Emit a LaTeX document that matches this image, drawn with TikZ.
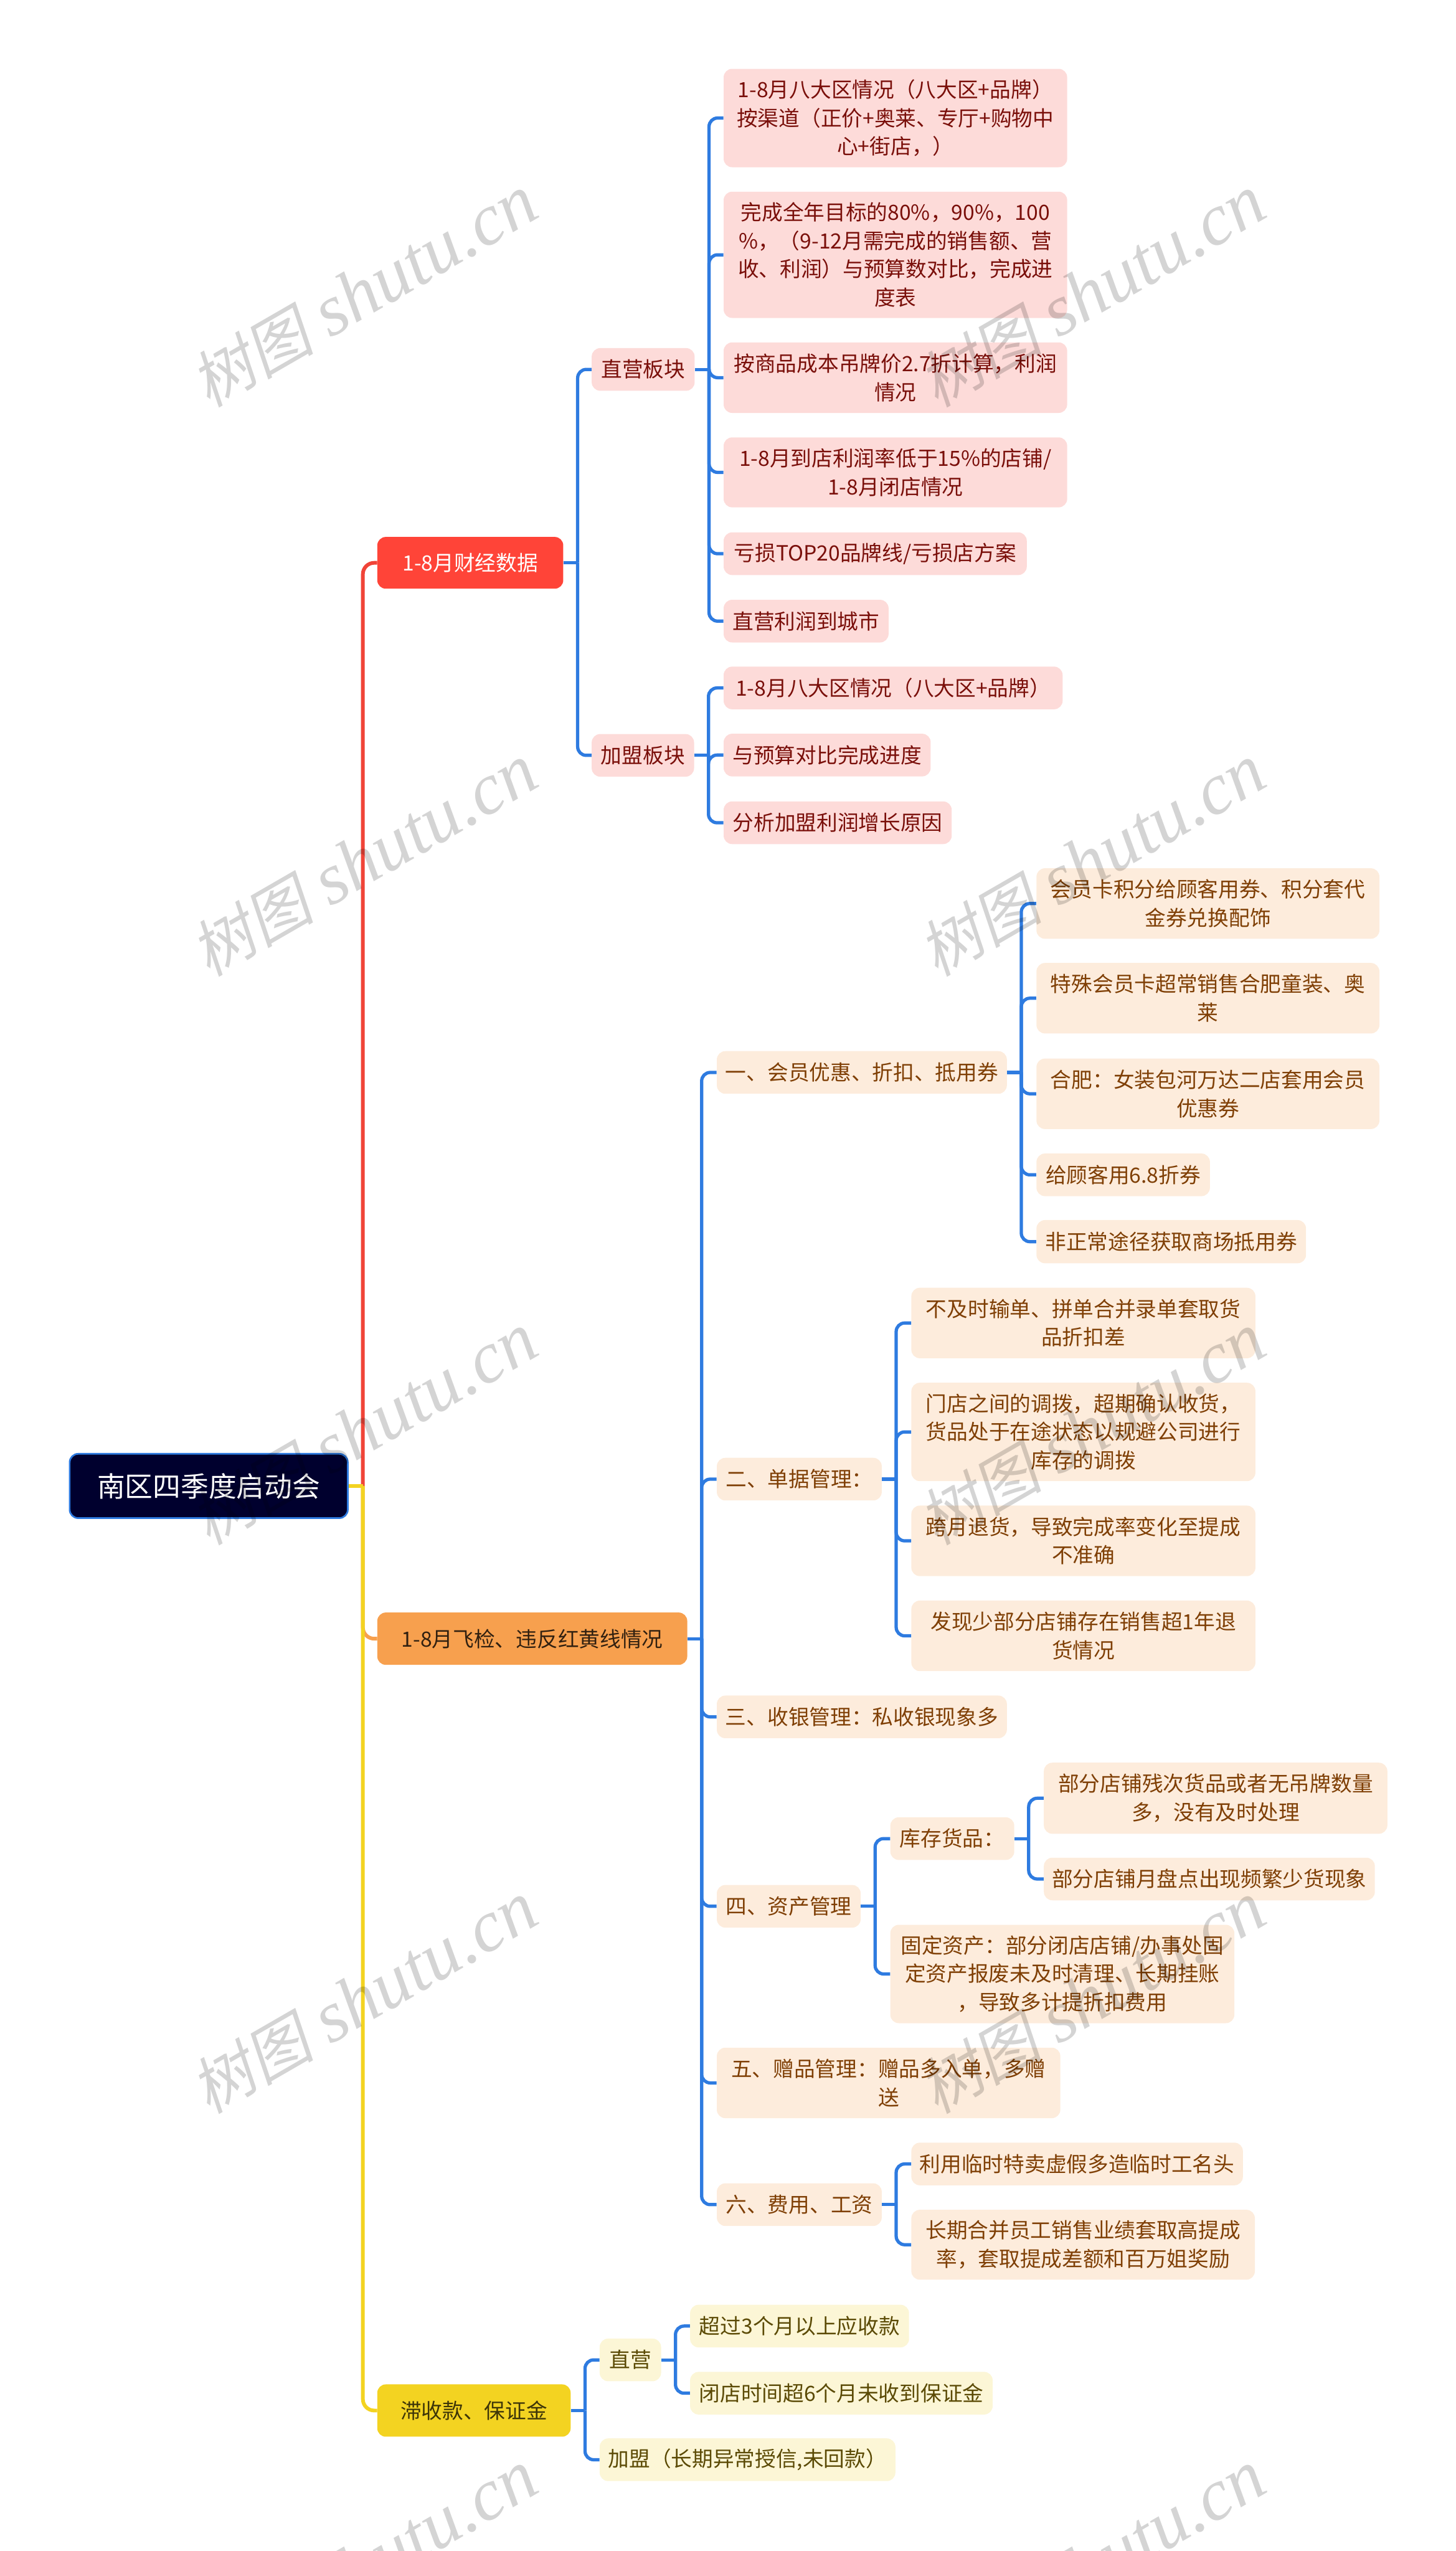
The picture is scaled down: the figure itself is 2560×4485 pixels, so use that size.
\documentclass[tikz,border=0pt]{standalone}
\usepackage{fontspec}
\usepackage{tikz}
\setmainfont{Noto Sans CJK SC}
\newfontfamily\markcjk[FakeSlant=0.2]{Noto Sans CJK SC}
\newfontfamily\marklatin{Liberation Serif}

\definecolor{rootfill}{HTML}{00002E}
\definecolor{linkblue}{HTML}{2E7BE0}
\definecolor{trunkred}{HTML}{F04438}
\definecolor{topicred}{HTML}{FF4438}
\definecolor{topicorange}{HTML}{F7A04E}
\definecolor{topicyellow}{HTML}{F3D321}
\definecolor{leafred}{HTML}{FDDBD9}
\definecolor{leaforange}{HTML}{FDECDC}
\definecolor{leafyellow}{HTML}{FCF6D6}
\definecolor{inkred}{HTML}{7A0F0A}
\definecolor{inkorange}{HTML}{7F3F05}
\definecolor{inkyellow}{HTML}{5B4A05}

\begin{document}
\begin{tikzpicture}[
        x=0.02cm, y=-0.02cm,
        boxsize/.style 2 args={minimum width=#1*0.02cm, minimum height=#2*0.02cm},
        mapbox/.style={rectangle, rounded corners=0.3cm, inner sep=0pt, anchor=west, align=center,
            font=\fontsize{21}{28.45}\selectfont},
        rootbox/.style={mapbox, fill=rootfill, draw=linkblue, line width=0.06cm, text=white,
            font=\fontsize{27.9}{34}\selectfont},
        topicr/.style={mapbox, fill=topicred, text=white},
        topico/.style={mapbox, fill=topicorange, text=black!80!topicorange},
        topicy/.style={mapbox, fill=topicyellow, text=black!75!topicyellow},
        leafr/.style={mapbox, fill=leafred, text=inkred},
        leafo/.style={mapbox, fill=leaforange, text=inkorange},
        leafy/.style={mapbox, fill=leafyellow, text=inkyellow},
        link/.style={draw=linkblue, line width=0.115cm, rounded corners=0.3cm},
        trunk/.style={line width=0.13cm, rounded corners=0.4cm},
        watermark/.style={text=black, opacity=0.17, rotate=30, inner sep=0pt, font=\fontsize{73}{73}\selectfont}
    ]
        \useasboundingbox (0,0) rectangle (2560,4485);

        % Root and topics
        \node[rootbox, boxsize={489}{113}] (root) at (121,2612.5) {南区四季度启动会};
        \node[topicr, boxsize={327}{91}] (finance) at (663,989.5) {1-8月财经数据};
        \node[topico, boxsize={545}{92}] (inspect) at (663,2881) {1-8月飞检、违反红黄线情况};
        \node[topicy, boxsize={340}{92}] (overdue) at (663,4238) {滞收款、保证金};

        % Finance branch
        \node[leafr, boxsize={181}{75}] (direct) at (1040,649.5) {直营板块};
        \node[leafr, boxsize={180}{75}] (franchise) at (1040,1328) {加盟板块};
        \node[leafr, boxsize={604}{173}] (direct1) at (1272,207.5) {1-8月八大区情况（八大区+品牌）\\按渠道（正价+奥莱、专厅+购物中\\心+街店，）};
        \node[leafr, boxsize={604}{222}] (direct2) at (1272,448) {完成全年目标的80\%，90\%，100\\\%，（9-12月需完成的销售额、营\\收、利润）与预算数对比，完成进\\度表};
        \node[leafr, boxsize={604}{124}] (direct3) at (1272,664) {按商品成本吊牌价2.7折计算，利润\\情况};
        \node[leafr, boxsize={604}{123}] (direct4) at (1272,830.5) {1-8月到店利润率低于15\%的店铺/\\1-8月闭店情况};
        \node[leafr, boxsize={533}{75}] (direct5) at (1272,973.5) {亏损TOP20品牌线/亏损店方案};
        \node[leafr, boxsize={290}{75}] (direct6) at (1272,1092) {直营利润到城市};
        \node[leafr, boxsize={596}{75}] (franchise1) at (1272,1209.5) {1-8月八大区情况（八大区+品牌）};
        \node[leafr, boxsize={364}{75}] (franchise2) at (1272,1327.5) {与预算对比完成进度};
        \node[leafr, boxsize={401}{75}] (franchise3) at (1272,1446.5) {分析加盟利润增长原因};

        % Inspection branch
        \node[leafo, boxsize={510}{75}] (member) at (1260,1885.5) {一、会员优惠、折扣、抵用券};
        \node[leafo, boxsize={603}{124}] (member1) at (1822,1588.5) {会员卡积分给顾客用券、积分套代\\金券兑换配饰};
        \node[leafo, boxsize={603}{124}] (member2) at (1822,1755) {特殊会员卡超常销售合肥童装、奥\\莱};
        \node[leafo, boxsize={603}{124}] (member3) at (1822,1923) {合肥：女装包河万达二店套用会员\\优惠券};
        \node[leafo, boxsize={305}{75}] (member4) at (1822,2065.5) {给顾客用6.8折券};
        \node[leafo, boxsize={474}{76}] (member5) at (1822,2183) {非正常途径获取商场抵用券};

        \node[leafo, boxsize={290}{75}] (bills) at (1260,2600.5) {二、单据管理：};
        \node[leafo, boxsize={605}{124}] (bills1) at (1602,2326) {不及时输单、拼单合并录单套取货\\品折扣差};
        \node[leafo, boxsize={605}{173}] (bills2) at (1602,2517.5) {门店之间的调拨，超期确认收货，\\货品处于在途状态以规避公司进行\\库存的调拨};
        \node[leafo, boxsize={605}{124}] (bills3) at (1602,2709) {跨月退货，导致完成率变化至提成\\不准确};
        \node[leafo, boxsize={605}{124}] (bills4) at (1602,2876) {发现少部分店铺存在销售超1年退\\货情况};

        \node[leafo, boxsize={510}{75}] (cash) at (1260,3018.5) {三、收银管理：私收银现象多};

        \node[leafo, boxsize={253}{75}] (assets) at (1260,3351.5) {四、资产管理};
        \node[leafo, boxsize={218}{75}] (stock) at (1565,3232.5) {库存货品：};
        \node[leafo, boxsize={604}{125}] (stock1) at (1835,3161.5) {部分店铺残次货品或者无吊牌数量\\多，没有及时处理};
        \node[leafo, boxsize={582}{75}] (stock2) at (1835,3303.5) {部分店铺月盘点出现频繁少货现象};
        \node[leafo, boxsize={605}{173}] (fixed) at (1565,3470.5) {固定资产：部分闭店店铺/办事处固\\定资产报废未及时清理、长期挂账\\，导致多计提折扣费用};

        \node[leafo, boxsize={604}{124}] (gifts) at (1260,3662) {五、赠品管理：赠品多入单，多赠\\送};

        \node[leafo, boxsize={290}{75}] (wages) at (1260,3876) {六、费用、工资};
        \node[leafo, boxsize={583}{75}] (wages1) at (1602,3804.5) {利用临时特卖虚假多造临时工名头};
        \node[leafo, boxsize={604}{123}] (wages2) at (1602,3946.5) {长期合并员工销售业绩套取高提成\\率，套取提成差额和百万姐奖励};

        % Overdue branch
        \node[leafy, boxsize={108}{75}] (owned) at (1054,4149) {直营};
        \node[leafy, boxsize={385}{75}] (owned1) at (1213,4089.5) {超过3个月以上应收款};
        \node[leafy, boxsize={532}{75}] (owned2) at (1213,4207.5) {闭店时间超6个月未收到保证金};
        \node[leafy, boxsize={520}{75}] (partner) at (1054,4324.5) {加盟（长期异常授信,未回款）};

        % Trunk
        \coordinate (rootjoin) at ([xshift=0.5cm]root.east);
        \draw[trunk, trunkred] (rootjoin) |- (finance.west);
        \draw[trunk, topicorange] (rootjoin) |- (inspect.west);
        \draw[trunk, topicyellow, sharp corners] (root.east) -- (rootjoin);
        \draw[trunk, topicyellow] (rootjoin) |- (overdue.west);

        % Edges
        \foreach \parent/\kids in {
            finance/{direct,franchise},
            direct/{direct1,direct2,direct3,direct4,direct5,direct6},
            franchise/{franchise1,franchise2,franchise3},
            inspect/{member,bills,cash,assets,gifts,wages},
            member/{member1,member2,member3,member4,member5},
            bills/{bills1,bills2,bills3,bills4},
            assets/{stock,fixed},
            stock/{stock1,stock2},
            wages/{wages1,wages2},
            overdue/{owned,partner},
            owned/{owned1,owned2}}{
            \draw[link] (\parent.east) -- ++(25,0) coordinate (\parent join);
            \foreach \kid in \kids
                \draw[link] (\parent join) |- (\kid.west);
        }

        % Marks
        \foreach \markx in {640,1920}
            \foreach \marky in {513,1513,2513,3513,4513}
                \node[watermark] (mark\markx\marky) at (\markx,\marky) {{\markcjk\fontsize{62}{62}\selectfont 树图} {\marklatin\itshape shutu.cn}};
    \end{tikzpicture}
\end{document}
